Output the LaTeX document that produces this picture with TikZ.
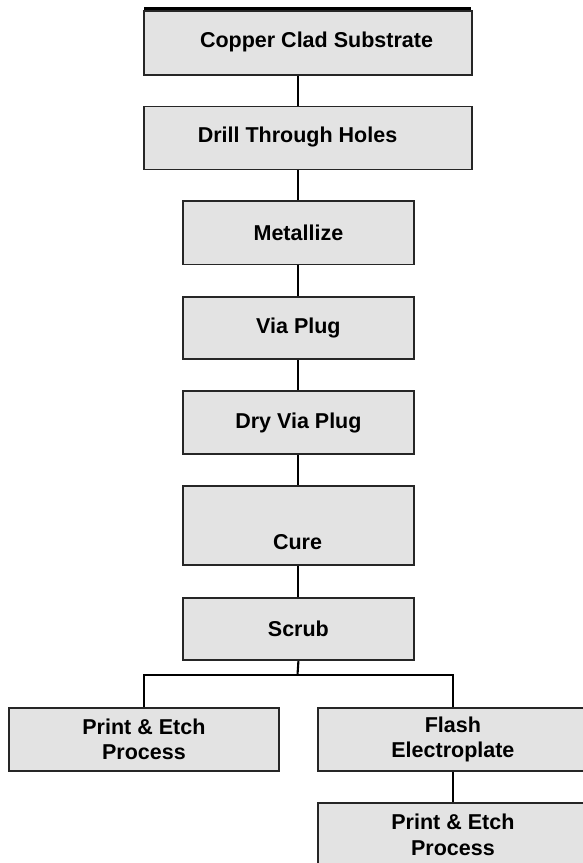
\documentclass[tikz,border=0pt]{standalone}
\usepackage{fontspec}
\setmainfont{Liberation Sans}
\definecolor{boxfill}{RGB}{227,227,227}
\definecolor{boxline}{RGB}{38,38,38}
\tikzset{
  box/.style={draw=boxline, fill=boxfill, line width=1.8pt, inner sep=0pt, anchor=north west,
    align=center, font=\fontsize{21.5}{25.6}\selectfont\bfseries},
  lbl/.style={inner sep=0pt, align=center, font=\fontsize{21.5}{25.6}\selectfont\bfseries},
  conn/.style={draw=black, line width=2.1pt}
}
\begin{document}
\begin{tikzpicture}[x=1pt,y=-1pt]
\useasboundingbox (0,0) rectangle (582,863);
% boxes
\node[box, minimum width=328, minimum height=64] (b1) at (143,10) {};
\node[lbl] (t1) at (316.5,42) {Copper Clad Substrate};
\draw[line width=2.6pt, black] ([xshift=1pt,yshift=1.4pt]b1.north west) -- ([xshift=-2pt,yshift=1.4pt]b1.north east);
\node[box, minimum width=328, minimum height=63] (b2) at (143,105.5) {};
\node[lbl] (t2) at (297.5,137) {Drill Through Holes};
\node[box, minimum width=231, minimum height=63.5] (b3) at (182,200) {Metallize};
\node[box, minimum width=231, minimum height=62.6] (b4) at (182,295.7) {Via Plug};
\node[box, minimum width=231, minimum height=63.3] (b5) at (182,390) {Dry Via Plug};
\node[box, minimum width=231, minimum height=79.3] (b6) at (182,485) {};
\node[lbl] (t6) at (297.5,541.7) {Cure};
\node[box, minimum width=231, minimum height=62.6] (b7) at (182,596.7) {Scrub};
\node[box, minimum width=270, minimum height=63.3] (b8) at (8,706.7) {Print \& Etch\\Process};
\node[box, minimum width=270, minimum height=63.3] (b9) at (317,706.7) {Flash\\Electroplate};
\node[box, minimum width=270, minimum height=63] (b10) at (317,802.3) {Print \& Etch\\Process};
% connectors
\draw[conn] (b2.north -| b3.north) -- (b1.south -| b3.north);
\draw[conn] (b3.north) -- (b3.north |- b2.south);
\draw[conn] (b3.south) -- (b4.north);
\draw[conn] (b4.south) -- (b5.north);
\draw[conn] (b5.south) -- (b6.north);
\draw[conn] (b6.south) -- (b7.north);
\coordinate (split) at (297.5,675);
\draw[conn] (b7.south) -- (split);
\draw[conn] (b8.north) -- (b8.north |- split) -- (b9.north |- split) -- (b9.north);
\draw[conn] (b9.south) -- (b10.north);
\end{tikzpicture}
\end{document}
